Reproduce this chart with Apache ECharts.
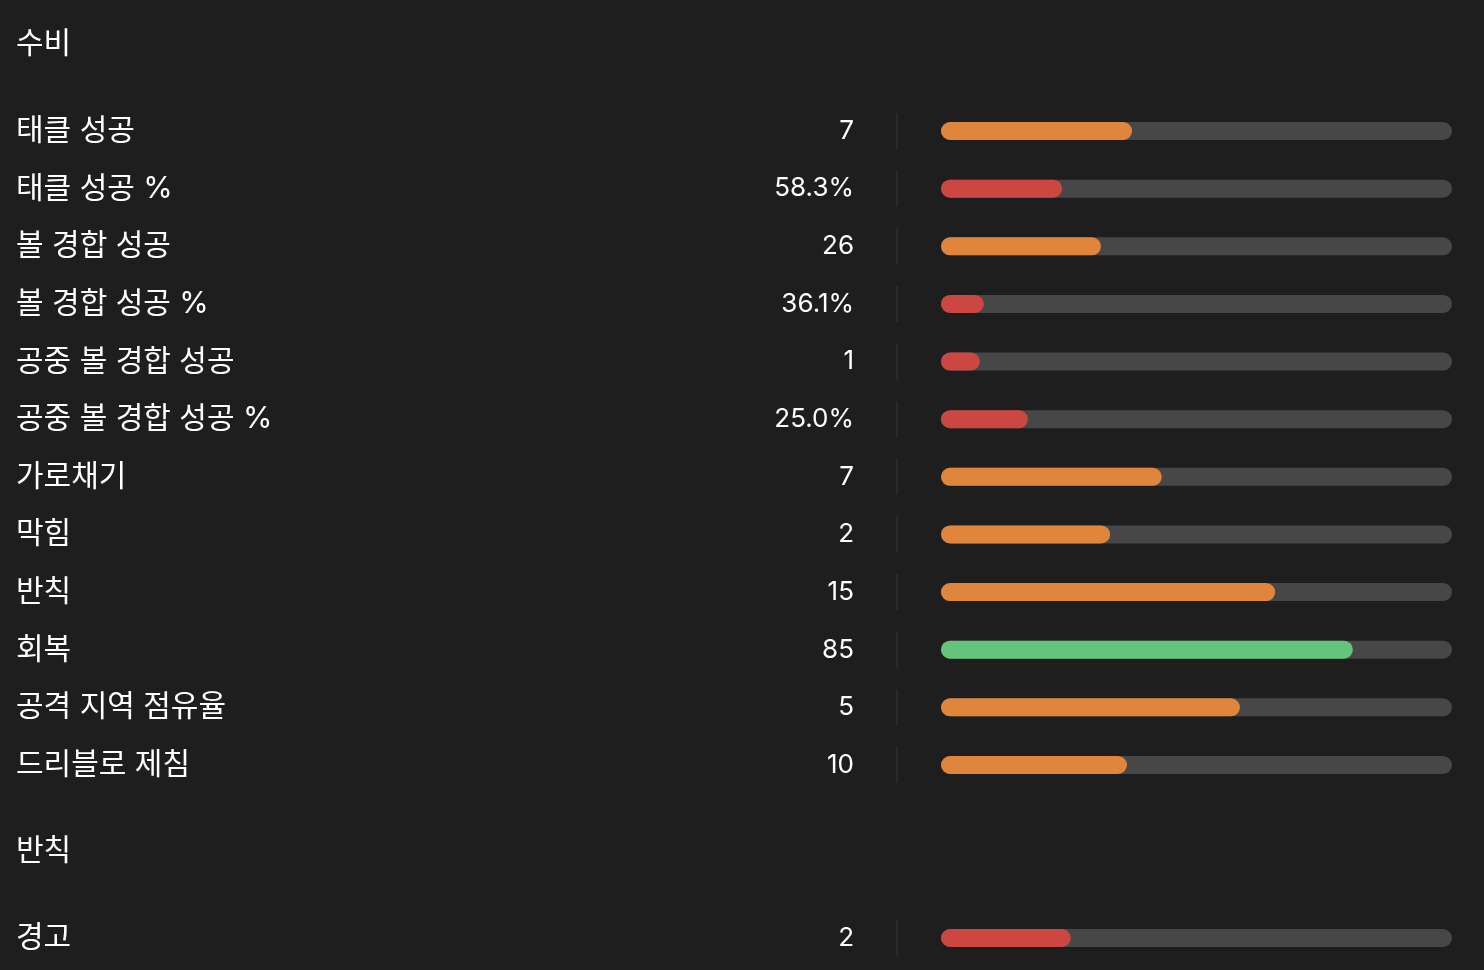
<!DOCTYPE html>
<html>
<head>
<meta charset="utf-8">
<script src="https://cdn.jsdelivr.net/npm/echarts@6/dist/echarts.min.js"></script>
<style>
html,body{margin:0;padding:0;background:#1e1e1e;}
#chart{width:1484px;height:970px;}
</style>
</head>
<body>
<div id="chart"></div>
<script>
// ---- data ----
var sectionTitles = ['수비', '반칙'];
var defenceLabels = ['태클 성공', '태클 성공 %', '볼 경합 성공', '볼 경합 성공 %', '공중 볼 경합 성공', '공중 볼 경합 성공 %', '가로채기', '막힘', '반칙', '회복', '공격 지역 점유율', '드리블로 제침'];
var defenceValues = ['7', '58.3%', '26', '36.1%', '1', '25.0%', '7', '2', '15', '85', '5', '10'];
var defencePercentiles = [37.4, 23.7, 31.3, 8.4, 7.6, 17.0, 43.2, 33.1, 65.4, 80.6, 58.5, 36.4];
var foulLabels = ['경고'];
var foulValues = ['2'];
var foulPercentiles = [25.4];

// ---- styles ----
var FONT = 'Inter, "Noto Sans CJK KR", sans-serif';
var C_LOW = '#cc4742', C_MID = '#e0863c', C_HIGH = '#65c47c', C_TRACK = '#474747';
function colorFor(p){ return p < 30 ? C_LOW : (p >= 80 ? C_HIGH : C_MID); }

var BAR_LEFT = 941, BAR_W = 511, SEP_X = 897, LABEL_X = 16, VALUE_RIGHT = 854;
var ROW_H = (765 - 131) / 11;
var sepValue = (SEP_X - BAR_LEFT) / BAR_W * 100;

function makeGrid(top, n){ return {left: BAR_LEFT, width: BAR_W, top: top, height: ROW_H * n, containLabel: false}; }

var grids = [makeGrid(131 - ROW_H/2, defenceLabels.length), makeGrid(938 - ROW_H/2, foulLabels.length)];
var xAxes = [0,1].map(function(i){ return {gridIndex:i, type:'value', min:0, max:100, show:false}; });

function labelAxis(gi, data){
  return {gridIndex:gi, type:'category', inverse:true, data:data, position:'left',
    axisLine:{show:false}, axisTick:{show:false}, splitLine:{show:false},
    axisLabel:{interval:0, margin: BAR_LEFT - LABEL_X, align:'left', color:'#ffffff', fontSize:30, fontFamily:FONT, padding:[0,0,7,0]}};
}
function valueAxis(gi, data){
  return {gridIndex:gi, type:'category', inverse:true, data:data, position:'left', offset:0,
    axisLine:{show:false}, axisTick:{show:false}, splitLine:{show:false},
    axisLabel:{interval:0, margin: BAR_LEFT - VALUE_RIGHT, align:'right', color:'#ffffff', fontSize:26, fontFamily:FONT, padding:[0,0,1,0]}};
}
var yAxes = [labelAxis(0, defenceLabels), valueAxis(0, defenceValues), labelAxis(1, foulLabels), valueAxis(1, foulValues)];

function seriesFor(gi, yi, pcts){
  return [
    {type:'bar', xAxisIndex:gi, yAxisIndex:yi, barWidth:18, barGap:'-100%', silent:true, z:1,
      itemStyle:{color:C_TRACK, borderRadius:9}, data: pcts.map(function(){ return 100; })},
    {type:'bar', xAxisIndex:gi, yAxisIndex:yi, barWidth:18, barGap:'-100%', silent:true, z:2,
      data: pcts.map(function(p){ return {value:p, itemStyle:{color:colorFor(p), borderRadius:9}}; })},
    {type:'scatter', xAxisIndex:gi, yAxisIndex:yi, symbol:'rect', symbolSize:[1,36], clip:false, silent:true,
      itemStyle:{color:'#3d3d3d'}, data: pcts.map(function(p,i){ return [sepValue, i]; })}
  ];
}

var option = {
  backgroundColor:'#1e1e1e',
  animation:false,
  title: [
    {text: sectionTitles[0], left: LABEL_X, top: 29, padding:0, textStyle:{color:'#ffffff', fontSize:30, fontWeight:'normal', fontFamily:FONT}},
    {text: sectionTitles[1], left: LABEL_X, top: 836, padding:0, textStyle:{color:'#ffffff', fontSize:30, fontWeight:'normal', fontFamily:FONT}}
  ],
  grid: grids,
  xAxis: xAxes,
  yAxis: yAxes,
  series: seriesFor(0,0,defencePercentiles).concat(seriesFor(1,2,foulPercentiles))
};
var chart = echarts.init(document.getElementById('chart'), null, {renderer:'canvas'});
chart.setOption(option);
</script>
</body>
</html>
